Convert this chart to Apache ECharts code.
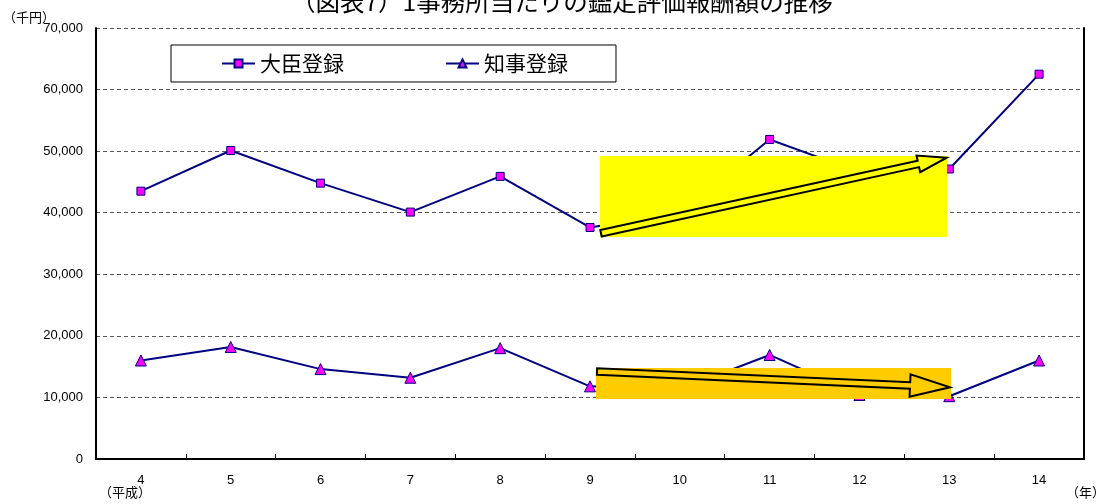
<!DOCTYPE html>
<html>
<head>
<meta charset="utf-8">
<script src="https://cdn.jsdelivr.net/npm/echarts@6/dist/echarts.min.js"></script>
<style>
  html, body { margin: 0; padding: 0; background: #fff; }
  #chart { width: 1109px; height: 504px; }
</style>
</head>
<body>
<div id="chart"></div>
<script>
// 年（平成）
var years = ['4', '5', '6', '7', '8', '9', '10', '11', '12', '13', '14'];
// 1事務所当たりの鑑定評価報酬額（千円）
var daijinValues = [43500, 50100, 44800, 40100, 45900, 37600, 40000, 51900, 46600, 47100, 62500];
var chijiValues  = [16000, 18200, 14600, 13200, 18000, 11800, 11300, 16900, 10400, 10200, 16000];
var seriesNames = ['大臣登録', '知事登録'];
var yTicks = { min: 0, max: 70000, interval: 10000 };

var CJK = '"Noto Sans CJK JP", sans-serif';
var LATIN = '"Liberation Sans", Arial, sans-serif';

// block arrow outline from tail to tip
function arrowPoints(tail, tip, shaftHalf, headLen, headHalf) {
  var dx = tip[0] - tail[0], dy = tip[1] - tail[1];
  var len = Math.sqrt(dx * dx + dy * dy);
  var ux = dx / len, uy = dy / len;
  var nx = -uy, ny = ux;
  var bx = tip[0] - ux * headLen, by = tip[1] - uy * headLen;
  return [
    [tail[0] + nx * shaftHalf, tail[1] + ny * shaftHalf],
    [bx + nx * shaftHalf, by + ny * shaftHalf],
    [bx + nx * headHalf, by + ny * headHalf],
    [tip[0], tip[1]],
    [bx - nx * headHalf, by - ny * headHalf],
    [bx - nx * shaftHalf, by - ny * shaftHalf],
    [tail[0] - nx * shaftHalf, tail[1] - ny * shaftHalf]
  ];
}

var chart = echarts.init(document.getElementById('chart'), null, { renderer: 'canvas' });

var option = {
  animation: false,
  backgroundColor: '#fff',
  title: {
    text: '（図表7）1事務所当たりの鑑定評価報酬額の推移',
    left: 291,
    top: -11,
    padding: 0,
    textStyle: { fontFamily: CJK, fontSize: 24.5, fontWeight: 'normal', color: '#000' }
  },
  legend: {
    data: seriesNames,
    left: 171,
    top: 45,
    orient: 'horizontal',
    itemWidth: 33,
    itemHeight: 10,
    itemGap: 101,
    padding: [8, 48, 8, 50],
    borderColor: '#000',
    borderWidth: 1,
    backgroundColor: '#fff',
    textStyle: { fontFamily: CJK, fontSize: 21, color: '#000' }
  },
  grid: { left: 96, right: 25, top: 28, bottom: 45, containLabel: false },
  xAxis: {
    type: 'category',
    data: years,
    boundaryGap: true,
    axisLine: { show: true, lineStyle: { color: '#000', width: 2 } },
    axisTick: { show: true, inside: true, length: 5, alignWithLabel: false, lineStyle: { color: '#000', width: 1 } },
    axisLabel: { fontFamily: LATIN, fontSize: 13, color: '#000', margin: 15 },
    splitLine: { show: false }
  },
  yAxis: [
    {
      type: 'value',
      min: yTicks.min,
      max: yTicks.max,
      interval: yTicks.interval,
      axisLine: { show: true, lineStyle: { color: '#000', width: 2 } },
      axisTick: { show: false },
      axisLabel: {
        fontFamily: LATIN, fontSize: 13, color: '#000', margin: 13,
        formatter: function (v) { return v.toString().replace(/\B(?=(\d{3})+(?!\d))/g, ','); }
      },
      splitLine: { show: true, lineStyle: { color: '#555', width: 1, type: [4, 3] } }
    },
    {
      type: 'value',
      position: 'right',
      min: yTicks.min,
      max: yTicks.max,
      interval: yTicks.interval,
      axisLine: { show: true, lineStyle: { color: '#000', width: 2 } },
      axisTick: { show: false },
      axisLabel: { show: false },
      splitLine: { show: false }
    }
  ],
  series: [
    {
      name: seriesNames[0],
      type: 'line',
      data: daijinValues,
      symbol: 'rect',
      symbolSize: 8,
      lineStyle: { color: '#000080', width: 2 },
      itemStyle: { color: '#FF00FF', borderColor: '#000080', borderWidth: 1 },
      z: 3
    },
    {
      name: seriesNames[1],
      type: 'line',
      data: chijiValues,
      symbol: 'triangle',
      symbolSize: 11,
      lineStyle: { color: '#000080', width: 2 },
      itemStyle: { color: '#FF00FF', borderColor: '#000080', borderWidth: 1 },
      z: 3
    }
  ],
  graphic: [
    { type: 'text', left: 3, top: 11, style: { text: '（千円）', font: '13px ' + CJK, fill: '#000' } },
    { type: 'text', left: 99, top: 486, style: { text: '（平成）', font: '13px ' + CJK, fill: '#000' } },
    { type: 'text', left: 1066, top: 486, style: { text: '（年）', font: '13px ' + CJK, fill: '#000' } },
    // 大臣登録の傾向
    { type: 'rect', z: 100, shape: { x: 600, y: 156, width: 347, height: 81 }, style: { fill: '#FFFF00' } },
    { type: 'polygon', z: 101, shape: { points: arrowPoints([601, 233.3], [946.7, 157.7], 3.3, 29, 8.5) },
      style: { fill: '#FFFF00', stroke: '#000', lineWidth: 2 } },
    // 知事登録の傾向
    { type: 'rect', z: 100, shape: { x: 596, y: 368, width: 355, height: 31 }, style: { fill: '#FFCC00' } },
    { type: 'polygon', z: 101, shape: { points: arrowPoints([597, 371.5], [950, 387.3], 3.2, 40, 11.2) },
      style: { fill: '#FFCC00', stroke: '#000', lineWidth: 2 } }
  ]
};

chart.setOption(option);
</script>
</body>
</html>
